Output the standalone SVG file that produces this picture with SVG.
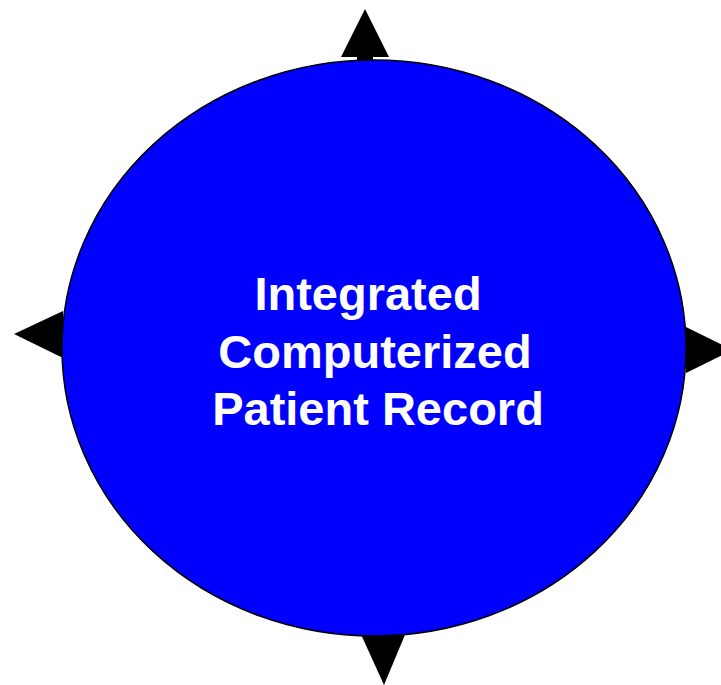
<svg xmlns="http://www.w3.org/2000/svg" width="721" height="685" viewBox="0 0 721 685">
<style>
.arrow{fill:#000;stroke:none}
.node{fill:#0000FF;stroke:#000;stroke-width:1.5}
.label{font-family:"Liberation Sans",Arial,sans-serif;font-weight:bold;font-size:47px;fill:#fff;text-anchor:middle}
</style>
<rect width="721" height="685" fill="#fff"/>
<g id="connectors">
<polygon class="arrow" points="365,9 389,57 373,57 373,70 357,70 357,57 341,57"/>
<polygon class="arrow" points="14,334 63,311 63,358"/>
<polygon class="arrow" points="733,350 686,327 686,373"/>
<polygon class="arrow" points="384,685 407,630 359,630"/>
</g>
<g id="record">
<ellipse class="node" cx="374" cy="348" rx="312" ry="288"/>
<text class="label" x="368" y="310">Integrated</text>
<text class="label" x="375" y="368">Computerized</text>
<text class="label" x="378" y="425">Patient Record</text>
</g>
</svg>
